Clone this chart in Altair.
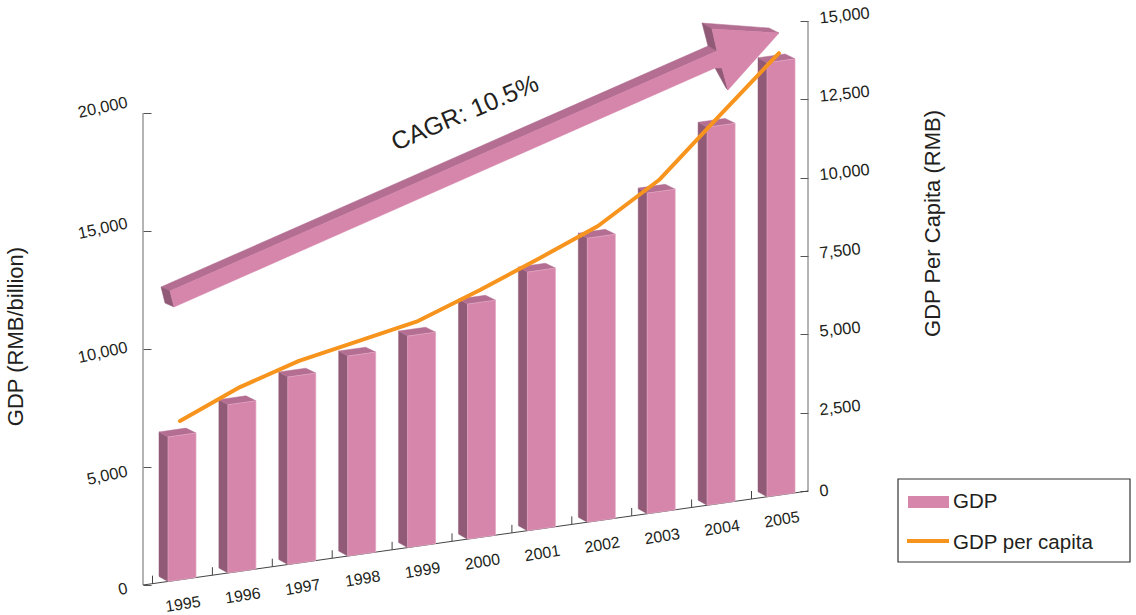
import altair as alt
import pandas as pd

# Annual series
YEARS = [1995, 1996, 1997, 1998, 1999, 2000, 2001, 2002, 2003, 2004, 2005]
GDP = [6123, 7132, 7945, 8475, 8962, 9958, 10957, 12034, 13585, 16017, 18390]
GDP_PER_CAPITA = [5068, 5880, 6447, 6814, 7184, 7896, 8646, 9405, 10597, 12392, 14107]

GDP_TICKS = [0, 5000, 10000, 15000, 20000]
PER_CAPITA_TICKS = [0, 2500, 5000, 7500, 10000, 12500, 15000]

FONT = "Liberation Sans"
PINK = "#D685AB"
PINK_EDGE = "#E2A6C3"
SIDE = "#915A77"
TOP = "#B36E92"
ORANGE = "#F7941E"
TEXT = "#231F20"

# Page layout of the tilted floor, in pixels
LEFT, RIGHT, TOP_EDGE, BOTTOM_EDGE = 143, 808, 15, 590
FLOOR_LEFT, FLOOR_RIGHT = 585, 491
SLOPE = (FLOOR_LEFT - FLOOR_RIGHT) / (RIGHT - LEFT)
STEP = 59.9
FIRST_CENTRE = 182
PX_GDP = 20000 / 472
PX_CAPITA = 15000 / 470


def year_at(px):
    return YEARS[0] + (px - FIRST_CENTRE) / STEP


def floor_y(px):
    return FLOOR_LEFT - SLOPE * (px - LEFT)


def gdp_level(px, value, up=0.0):
    """Left-scale position of a value standing on the floor at page column px."""
    return value + (FLOOR_LEFT - floor_y(px) + up) * PX_GDP


def capita_level(px, value):
    return value + (FLOOR_RIGHT - floor_y(px)) * PX_CAPITA


def screen_level(py):
    return (FLOOR_LEFT - py) * PX_GDP


X_SCALE = alt.Scale(domain=[year_at(LEFT), year_at(RIGHT)], nice=False, zero=False)
Y_LEFT = alt.Scale(domain=[screen_level(BOTTOM_EDGE), screen_level(TOP_EDGE)], nice=False, zero=False)
Y_RIGHT = alt.Scale(
    domain=[(FLOOR_RIGHT - BOTTOM_EDGE) * PX_CAPITA, (FLOOR_RIGHT - TOP_EDGE) * PX_CAPITA],
    nice=False,
    zero=False,
)

# Box faces for each year
FRONT_W, DEPTH_X, DEPTH_UP = 28, 9, 6.3
faces = {"front": [], "side": [], "top": []}
for i, (year, value) in enumerate(zip(YEARS, GDP)):
    x0 = FIRST_CENTRE - 14 + STEP * i
    x1 = x0 + FRONT_W
    bx0, bx1 = x0 - DEPTH_X, x1 - DEPTH_X - 1
    polys = {
        "front": [(x0, value, 0), (x1, value, 0), (x1, 0, 0), (x0, 0, 0), (x0, value, 0)],
        "side": [(bx0, value, DEPTH_UP), (x0, value, 0), (x0, 0, 0), (bx0, 0, DEPTH_UP), (bx0, value, DEPTH_UP)],
        "top": [(bx0, value, DEPTH_UP), (x0, value, 0), (x1, value, 0), (bx1, value, DEPTH_UP), (bx0, value, DEPTH_UP)],
    }
    for name, verts in polys.items():
        for k, (px, v, up) in enumerate(verts):
            faces[name].append({"year": year, "k": k, "x": year_at(px), "y": gdp_level(px, v, up)})


def polygon(rows, colour, group="year", edge=None, edge_width=0.5):
    return (
        alt.Chart(pd.DataFrame(rows))
        .mark_line(fill=colour, stroke=edge or colour, strokeWidth=edge_width, strokeJoin="miter")
        .encode(
            x=alt.X("x:Q", scale=X_SCALE, axis=None),
            y=alt.Y("y:Q", scale=Y_LEFT, axis=None),
            order="k:Q",
            detail=f"{group}:N",
        )
    )


# Growth arrow outline, page pixels
ARROW_FACES = {
    "top": ([(161, 287), (170, 291), (717, 51), (708, 46)], TOP),
    "tail": ([(161, 287), (170, 291), (174, 307), (165, 303)], SIDE),
    "head_top": ([(702, 23), (769, 28), (779, 33), (712, 29)], TOP),
    "head_back": ([(702, 23), (712, 29), (717, 51), (708, 46)], SIDE),
    "head_low": ([(715, 68), (722, 68), (728, 90), (726, 88)], SIDE),
    "front": ([(170, 291), (717, 51), (712, 29), (779, 33), (728, 90), (722, 68), (715, 68), (174, 307)], PINK),
}
arrow_layers = []
for name, (outline, colour) in ARROW_FACES.items():
    closed = outline + outline[:1]
    rows = [{"part": name, "k": k, "x": year_at(px), "y": screen_level(py)} for k, (px, py) in enumerate(closed)]
    arrow_layers.append(polygon(rows, colour, group="part"))

# Left axis with its line
left_axis = (
    alt.Chart(pd.DataFrame({"tick": GDP_TICKS}))
    .mark_tick(opacity=0)
    .encode(
        y=alt.Y(
            "tick:Q",
            scale=Y_LEFT,
            axis=alt.Axis(
                values=GDP_TICKS,
                format=",d",
                domain=False,
                grid=False,
                offset=-8,
                tickSize=8,
                tickColor="#555555",
                labelFont=FONT,
                labelFontSize=16.5,
                labelColor=TEXT,
                labelAngle=348,
                labelAlign="right",
                labelBaseline="middle",
                labelPadding=16,
                labelOffset={
                    "condition": [
                        {"test": "datum.value === 20000", "value": -11},
                        {"test": "datum.value === 15000", "value": -8},
                        {"test": "datum.value === 5000", "value": 4},
                        {"test": "datum.value === 0", "value": 3},
                    ],
                    "value": -2,
                },
                title="GDP (RMB/billion)",
                titleFont=FONT,
                titleFontSize=22,
                titleFontWeight="normal",
                titleColor=TEXT,
                titleAngle=270,
                titleX=-136,
                titleY=336 - TOP_EDGE,
                titleAlign="center",
                titleBaseline="middle",
            ),
        )
    )
)

left_rule = (
    alt.Chart(pd.DataFrame({"a": [GDP_TICKS[0]], "b": [GDP_TICKS[-1]], "x": [year_at(LEFT)]}))
    .mark_rule(color="#6A6A6A", strokeWidth=1)
    .encode(
        x=alt.X("x:Q", scale=X_SCALE, axis=None),
        y=alt.Y("a:Q", scale=Y_LEFT, axis=None),
        y2="b:Q",
    )
)

right_rule = (
    alt.Chart(pd.DataFrame({"a": [gdp_level(RIGHT, 0)], "b": [gdp_level(RIGHT, 20000 * 470 / 472)], "x": [year_at(RIGHT)]}))
    .mark_rule(color="#6A6A6A", strokeWidth=1)
    .encode(
        x=alt.X("x:Q", scale=X_SCALE, axis=None),
        y=alt.Y("a:Q", scale=Y_LEFT, axis=None),
        y2="b:Q",
    )
)

# Tilted floor edge and its year ticks
floor_line = (
    alt.Chart(pd.DataFrame({"x": [year_at(LEFT), year_at(RIGHT)], "y": [0.0, gdp_level(RIGHT, 0)]}))
    .mark_line(color="#444444", strokeWidth=1)
    .encode(x=alt.X("x:Q", scale=X_SCALE, axis=None), y=alt.Y("y:Q", scale=Y_LEFT, axis=None))
)

tick_px = [FIRST_CENTRE - 29.5 + STEP * i for i in range(len(YEARS))]
floor_ticks = (
    alt.Chart(
        pd.DataFrame(
            {
                "x": [year_at(p) for p in tick_px],
                "a": [gdp_level(p, 0) for p in tick_px],
                "b": [gdp_level(p, 0, 8) for p in tick_px],
            }
        )
    )
    .mark_rule(color="#444444", strokeWidth=1)
    .encode(x=alt.X("x:Q", scale=X_SCALE, axis=None), y=alt.Y("a:Q", scale=Y_LEFT, axis=None), y2="b:Q")
)

year_labels = (
    alt.Chart(
        pd.DataFrame(
            {
                "label": [str(y) for y in YEARS],
                "x": [year_at(FIRST_CENTRE + 1 + STEP * i) for i in range(len(YEARS))],
                "y": [gdp_level(FIRST_CENTRE + 1 + STEP * i, 0, -25) for i in range(len(YEARS))],
            }
        )
    )
    .mark_text(font=FONT, fontSize=16, angle=351, color=TEXT, align="center", baseline="middle")
    .encode(x=alt.X("x:Q", scale=X_SCALE, axis=None), y=alt.Y("y:Q", scale=Y_LEFT, axis=None), text="label:N")
)

cagr = (
    alt.Chart(pd.DataFrame({"x": [year_at(465)], "y": [screen_level(113)]}))
    .mark_text(font=FONT, fontSize=25, angle=337, color=TEXT, text="CAGR: 10.5%", align="center", baseline="middle")
    .encode(x=alt.X("x:Q", scale=X_SCALE, axis=None), y=alt.Y("y:Q", scale=Y_LEFT, axis=None))
)

# Per-capita line on the right-hand scale
line_px = [180, 240, 299, 359, 418, 480, 540, 598, 659, 720, 779]
capita = pd.DataFrame(
    {
        "x": [year_at(p) for p in line_px],
        "y": [capita_level(p, v) for p, v in zip(line_px, GDP_PER_CAPITA)],
    }
)
capita_line = (
    alt.Chart(capita)
    .mark_line(color=ORANGE, strokeWidth=4, strokeCap="round", strokeJoin="round")
    .encode(
        x=alt.X("x:Q", scale=X_SCALE, axis=None),
        y=alt.Y(
            "y:Q",
            scale=Y_RIGHT,
            axis=alt.Axis(
                orient="right",
                values=PER_CAPITA_TICKS,
                format=",d",
                domain=False,
                grid=False,
                offset=-8,
                tickSize=8,
                tickColor="#555555",
                labelFont=FONT,
                labelFontSize=16.5,
                labelColor=TEXT,
                labelAngle=354,
                labelAlign="left",
                labelBaseline="middle",
                labelPadding=11,
                labelOffset={
                    "condition": {"test": "datum.value === 0", "value": 0},
                    "value": -3,
                },
                title="GDP Per Capita (RMB)",
                titleFont=FONT,
                titleFontSize=22,
                titleFontWeight="normal",
                titleColor=TEXT,
                titleAngle=270,
                titleX=132,
                titleY=223 - TOP_EDGE,
                titleAlign="center",
                titleBaseline="middle",
            ),
        ),
    )
)

# Key in the lower right corner
one_row = pd.DataFrame({"a": [0]})
key_box = (
    alt.Chart(one_row)
    .mark_rect(fill="white", stroke="#333333", strokeWidth=1.2)
    .encode(
        x=alt.value(898 - LEFT), x2=alt.value(1130 - LEFT),
        y=alt.value(479 - TOP_EDGE), y2=alt.value(562 - TOP_EDGE),
    )
)
key_swatch = (
    alt.Chart(one_row)
    .mark_rect(fill=PINK)
    .encode(
        x=alt.value(908 - LEFT), x2=alt.value(949 - LEFT),
        y=alt.value(496 - TOP_EDGE), y2=alt.value(508 - TOP_EDGE),
    )
)
key_line = (
    alt.Chart(one_row)
    .mark_rule(color=ORANGE, strokeWidth=4)
    .encode(x=alt.value(907 - LEFT), x2=alt.value(949 - LEFT), y=alt.value(541 - TOP_EDGE))
)
key_gdp = (
    alt.Chart(one_row)
    .mark_text(font=FONT, fontSize=20.5, color=TEXT, text="GDP", align="left", baseline="middle")
    .encode(x=alt.value(953 - LEFT), y=alt.value(502 - TOP_EDGE))
)
key_capita = (
    alt.Chart(one_row)
    .mark_text(font=FONT, fontSize=20.5, color=TEXT, text="GDP per capita", align="left", baseline="middle")
    .encode(x=alt.value(953 - LEFT), y=alt.value(543 - TOP_EDGE))
)

chart = (
    alt.layer(
        left_axis,
        left_rule,
        right_rule,
        floor_line,
        floor_ticks,
        polygon(faces["side"], SIDE),
        polygon(faces["top"], TOP),
        polygon(faces["front"], PINK, edge=PINK_EDGE, edge_width=0.7),
        *arrow_layers,
        year_labels,
        cagr,
        capita_line,
        key_box,
        key_swatch,
        key_line,
        key_gdp,
        key_capita,
    )
    .resolve_scale(y="independent")
    .properties(
        width=RIGHT - LEFT,
        height=BOTTOM_EDGE - TOP_EDGE,
        padding={"left": LEFT, "top": TOP_EDGE, "right": 1136 - RIGHT, "bottom": 615 - BOTTOM_EDGE},
        autosize=alt.AutoSizeParams(type="none"),
        background="white",
    )
    .configure_view(stroke=None)
)

chart.save("out.html", embed_options={"renderer": "svg", "actions": False})
